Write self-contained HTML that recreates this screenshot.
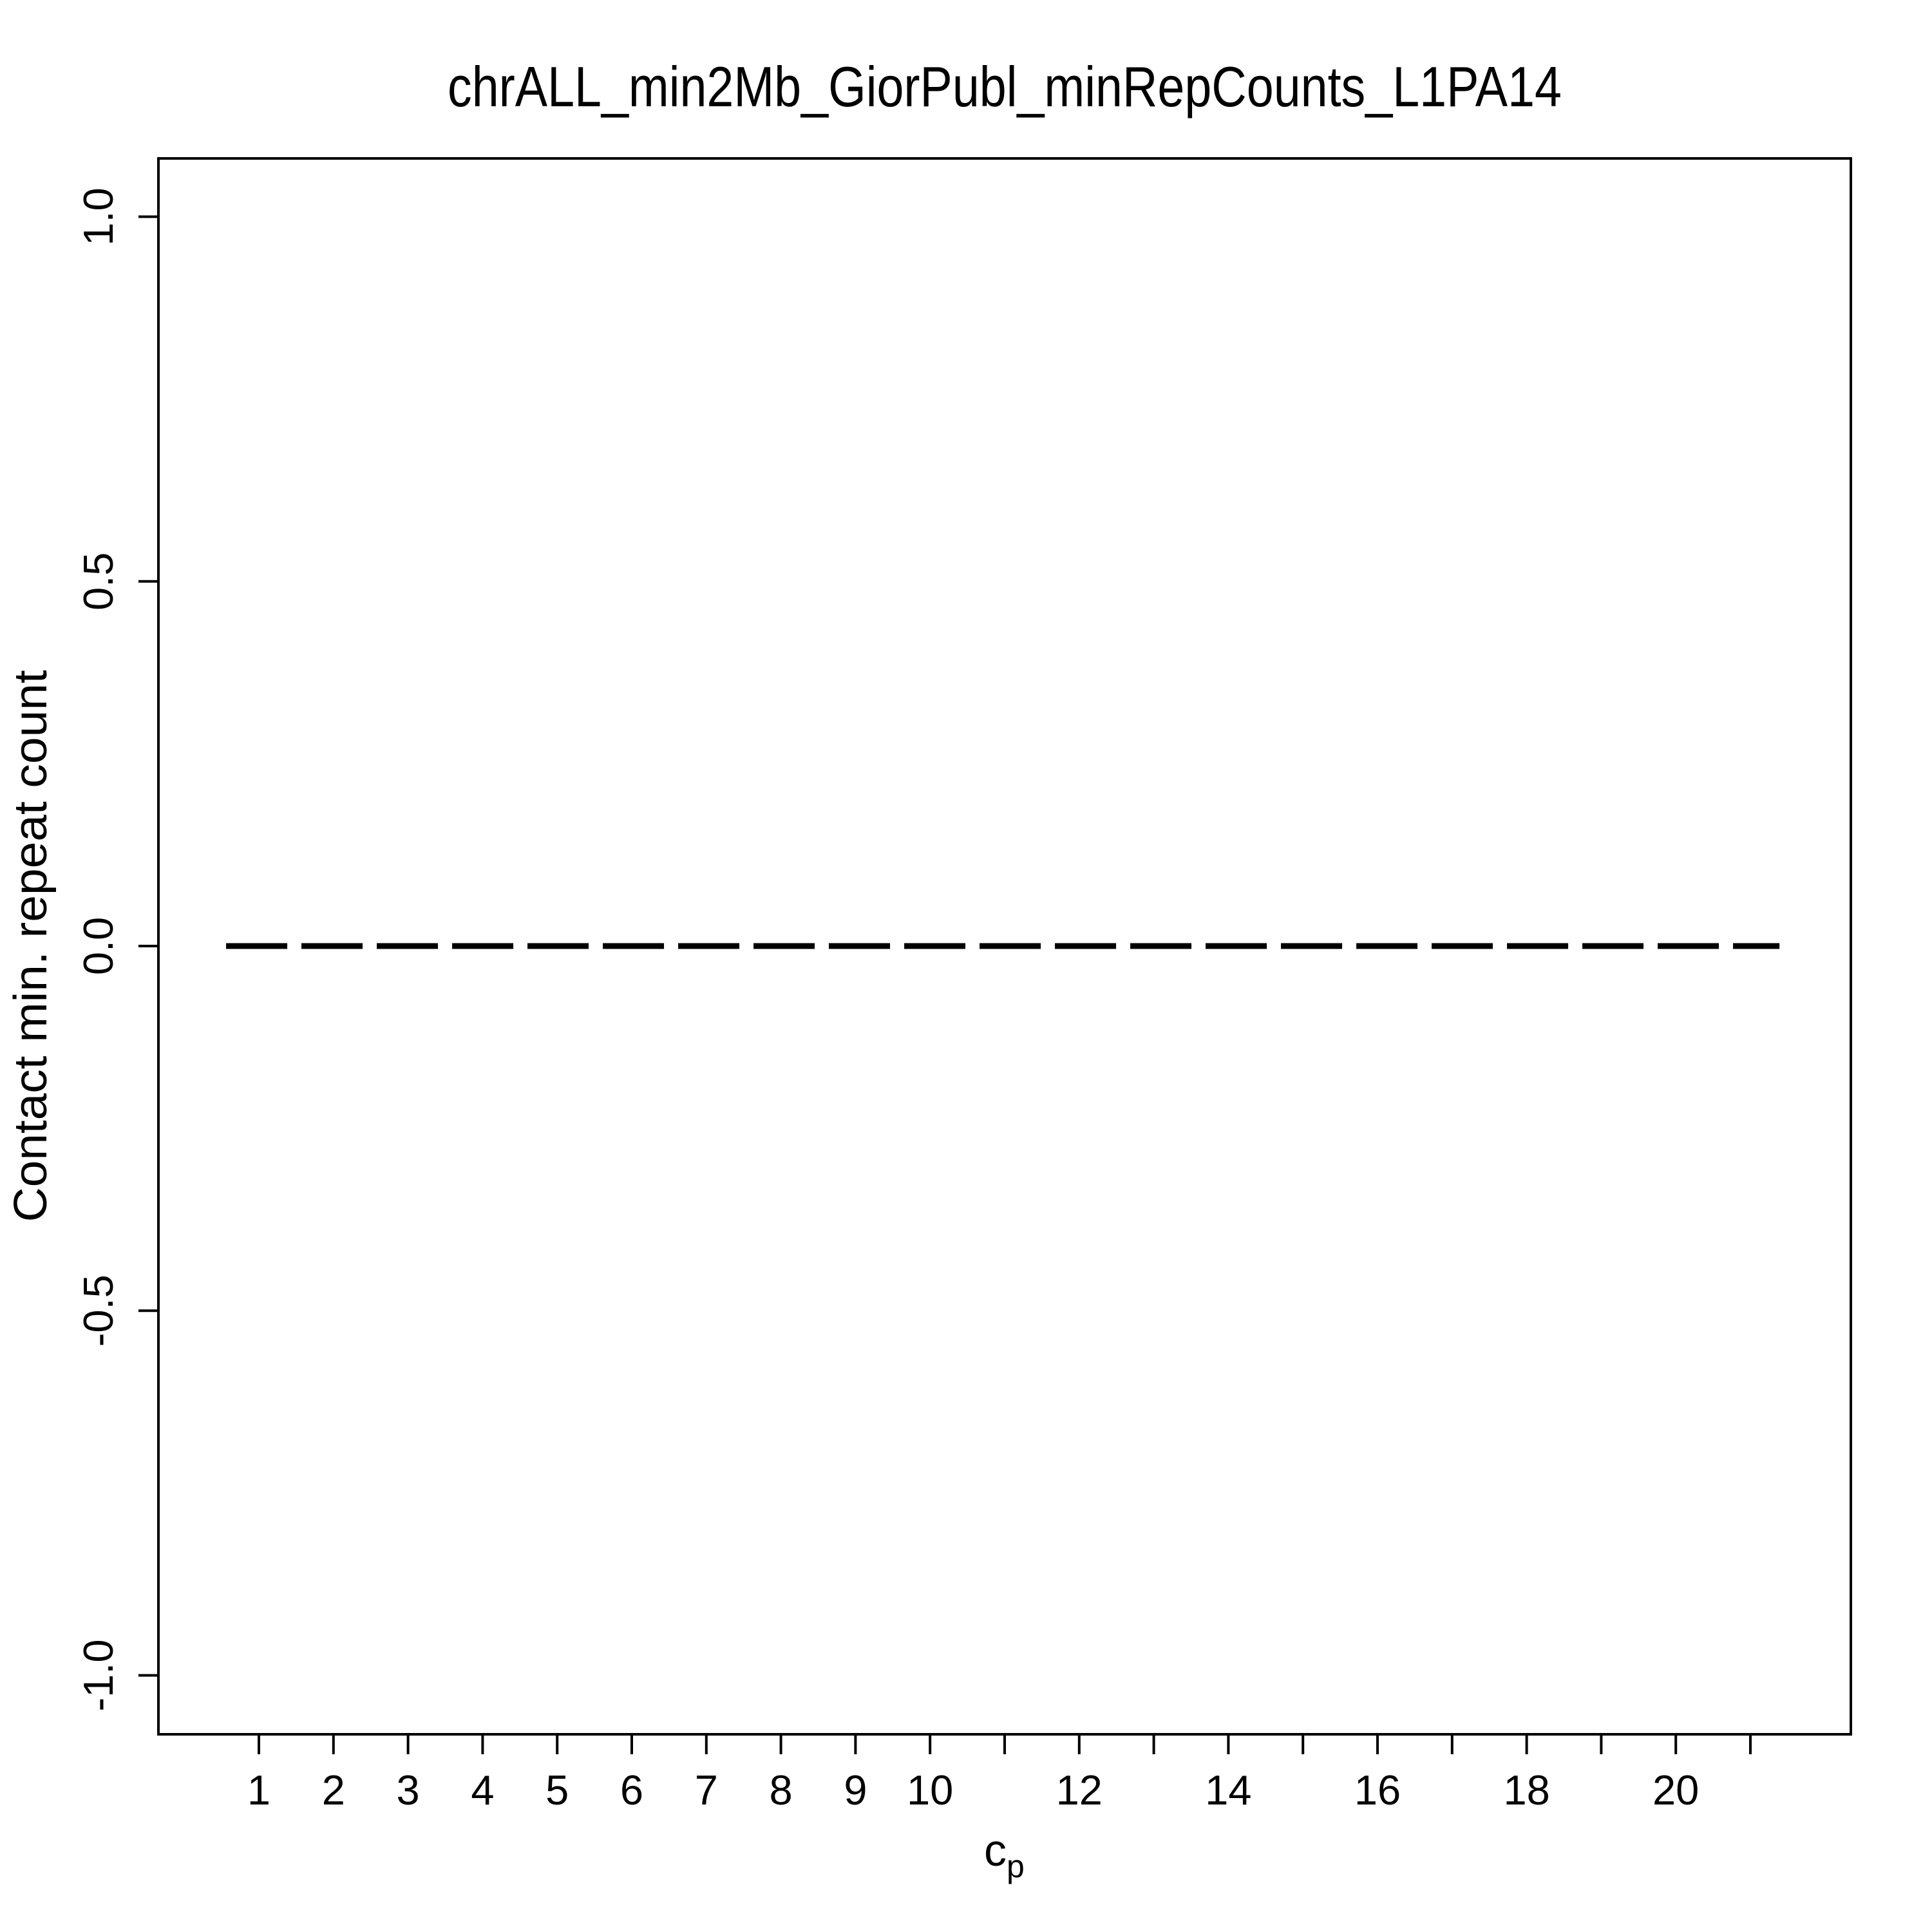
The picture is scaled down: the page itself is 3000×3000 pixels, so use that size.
<!DOCTYPE html>
<html><head><meta charset="utf-8"><style>
html,body{margin:0;padding:0;background:#fff;}
svg{display:block;font-family:"Liberation Sans",Arial,sans-serif;}
</style></head><body>
<svg id="chart" width="3000" height="3000" viewBox="0 0 3000 3000" xmlns="http://www.w3.org/2000/svg">
<rect width="3000" height="3000" fill="#fff"/>
<text x="1560" y="165" font-size="88" text-anchor="middle" textLength="1730" lengthAdjust="spacingAndGlyphs">chrALL_min2Mb_GiorPubl_minRepCounts_L1PA14</text>
<rect x="246" y="246" width="2628" height="2447" fill="none" stroke="#000" stroke-width="4"/>
<g id="xaxis"></g>
<g id="yaxis"></g>
<g id="series"></g>
<text x="1528" y="2897" font-size="70">c<tspan font-size="50" dy="18">p</tspan></text>
<text transform="translate(72,1469) rotate(-90)" font-size="72" text-anchor="middle" textLength="857" lengthAdjust="spacingAndGlyphs">Contact min. repeat count</text>
</svg>
<script>
const xTicks = [1,2,3,4,5,6,7,8,9,10,11,12,13,14,15,16,17,18,19,20,21];
const xTickLabels = ["1","2","3","4","5","6","7","8","9","10","","12","","14","","16","","18","","20",""];
const yTicks = [-1.0,-0.5,0.0,0.5,1.0];
const yTickLabels = ["-1.0","-0.5","0.0","0.5","1.0"];
const seriesX = [0.56,21.39];
const seriesY = [0,0];

const NS="http://www.w3.org/2000/svg";
function X(v){return 402+(v-1)*115.8;}
function Y(v){return 1469-v*1132.5;}
function mk(tag,attrs,parent){const e=document.createElementNS(NS,tag);for(const k in attrs)e.setAttribute(k,attrs[k]);parent.appendChild(e);return e;}
const xa=document.getElementById('xaxis'), ya=document.getElementById('yaxis'), sg=document.getElementById('series');
xTicks.forEach((t,i)=>{
  const l=mk('line',{x1:X(t),x2:X(t),y1:2693,y2:2724,stroke:'#000','stroke-width':4},xa);
  
  
  if(xTickLabels[i]){
    const tx=mk('text',{x:X(t),y:2802,'font-size':65,'text-anchor':'middle'},xa);
    tx.textContent=xTickLabels[i];
    
    
  }
});
yTicks.forEach((t,i)=>{
  const l=mk('line',{x1:215,x2:246,y1:Y(t),y2:Y(t),stroke:'#000','stroke-width':4},ya);
  
  
  const tx=mk('text',{transform:`translate(175,${Y(t)}) rotate(-90)`,'font-size':65,'text-anchor':'middle'},ya);
  tx.textContent=yTickLabels[i];
  
  
});
const ln=mk('line',{x1:X(seriesX[0]),x2:X(seriesX[1]),y1:Y(seriesY[0]),y2:Y(seriesY[1]),stroke:'#000','stroke-width':9,'stroke-dasharray':'95 22'},sg);


</script>
</body></html>
